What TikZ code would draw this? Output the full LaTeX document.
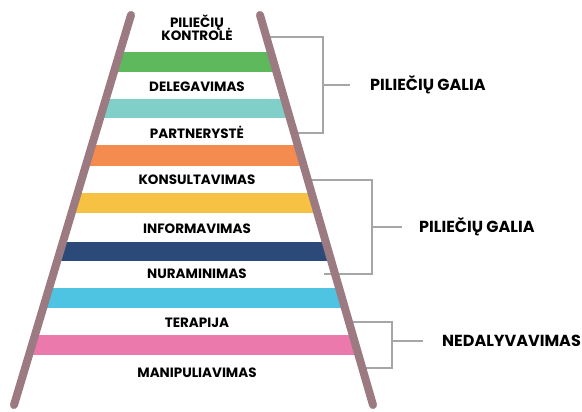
\documentclass[tikz,border=0pt]{standalone}
\usepackage{fontspec}
\setmainfont{Poppins}
\definecolor{railc}{HTML}{9C7A82}
\definecolor{bracec}{HTML}{A6A6A6}
\definecolor{rgreen}{HTML}{5DB95B}
\definecolor{rteal}{HTML}{80CFC8}
\definecolor{rorange}{HTML}{F48C4F}
\definecolor{ryellow}{HTML}{F7C244}
\definecolor{rnavy}{HTML}{2B4A7A}
\definecolor{rsky}{HTML}{4EC4E2}
\definecolor{rpink}{HTML}{EC79AC}
\tikzset{
  rung/.style={font=\fontsize{13.5}{14}\selectfont\bfseries, align=center, inner sep=1pt},
  group/.style={font=\fontsize{16}{17}\selectfont\bfseries, anchor=west, inner sep=0pt},
  rail/.style={railc, line width=8pt, line cap=round},
  braceline/.style={bracec, line width=1.3pt}
}
\begin{document}
\begin{tikzpicture}[x=1pt, y=-1pt]
  \useasboundingbox (0,0) rectangle (582,412);
  % Sprossen zwischen den Holmen
  \begin{scope}
    \clip (131,15) -- (260,15) -- (373,405) -- (14,405) -- cycle;
    \foreach \ya/\yb/\col in {52/72/rgreen, 99/118/rteal, 145/166/rorange,
        193/213/ryellow, 242/261/rnavy, 288/308/rsky, 335/355/rpink} {
      \fill[\col] (0,\ya) rectangle (400,\yb);
    }
  \end{scope}
  % Stufen
  \node[rung] (kontrole) at (197,28) {PILIEČIŲ\\[-3pt]KONTROLĖ};
  \node[rung] (delegavimas) at (197,87) {DELEGAVIMAS};
  \node[rung] (partneryste) at (197,132) {PARTNERYSTĖ};
  \node[rung] (konsultavimas) at (197,180) {KONSULTAVIMAS};
  \node[rung] (informavimas) at (197,229) {INFORMAVIMAS};
  \node[rung] (nuraminimas) at (197,274) {NURAMINIMAS};
  \node[rung] (terapija) at (197,323) {TERAPIJA};
  \node[rung] (manipuliavimas) at (197,373) {MANIPULIAVIMAS};
  % Gruppen rechts
  \node[group] (galia1) at (370,85) {PILIEČIŲ GALIA};
  \node[group] (galia2) at (419,227) {PILIEČIŲ GALIA};
  \node[group] (nedal) at (442,341) {NEDALYVAVIMAS};
  \coordinate (b1t) at (264,37);
  \coordinate (b1m) at (323,85);
  \coordinate (b1b) at (292,133);
  \coordinate (b2t) at (310,180);
  \coordinate (b2m) at (372,227);
  \coordinate (b2b) at (324,274);
  \coordinate (b3t) at (352,322);
  \coordinate (b3m) at (392,341);
  \coordinate (b3b) at (362,368);
  \draw[braceline] (b1t) -| (b1m) |- (b1b);
  \draw[braceline] (b2t) -| (b2m) |- (b2b);
  \draw[braceline] (b3t) -| (b3m) |- (b3b);
  \draw[braceline, shorten >=20pt] (b1m) -- (galia1.west);
  \draw[braceline, shorten >=17pt] (b2m) -- (galia2.west);
  \draw[braceline, shorten >=19pt] (b3m) -- (nedal.west);
  % Holme
  \draw[rail] (131,15) -- (14,405);
  \draw[rail] (260,15) -- (373,405);
\end{tikzpicture}
\end{document}
